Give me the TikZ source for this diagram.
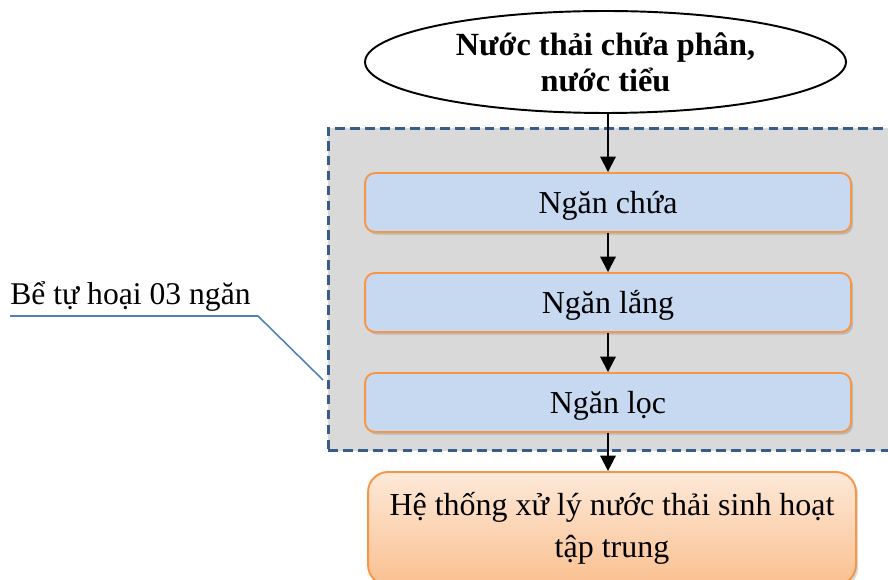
\documentclass[tikz,border=0pt]{standalone}
\usepackage{fontspec}
\setmainfont{Liberation Serif}
\usepackage{tikz}
\usetikzlibrary{arrows.meta, shapes.geometric, shadows}
\usepackage{xcolor}
\definecolor{tankgray}{HTML}{D9D9D9}
\definecolor{tankblue}{HTML}{395D8A}
\definecolor{boxblue}{HTML}{C6D9F1}
\definecolor{boxorange}{HTML}{F79646}
\definecolor{peachtop}{HTML}{FDE9D9}
\definecolor{peachbot}{HTML}{FAC090}
\definecolor{calloutblue}{HTML}{4F81BD}

\begin{document}
\begin{tikzpicture}[
  x=0.02cm, y=-0.02cm,
  >={Triangle[width=0.31cm, length=0.31cm]},
  txt/.style={font=\fontsize{18.2}{21}\selectfont},
  chamber/.style={txt, draw=boxorange, line width=1.1pt, fill=boxblue, rounded corners=0.2cm,
    minimum width=9.72cm, minimum height=1.18cm, inner sep=0pt, text height=0.43cm, text depth=0pt,
    drop shadow={opacity=0.35, shadow xshift=1.2pt, shadow yshift=-1.5pt}},
  flow/.style={->, line width=1.1pt, black},
  callout/.style={line width=0.9pt, calloutblue}
]
\clip (0,0) rectangle (888,580);

% --- Bể tự hoại (khung nét đứt) ---
\node[draw=tankblue, fill=tankgray, line width=1.7pt, dash pattern=on 5.5pt off 3pt,
  minimum width=11.28cm, minimum height=6.46cm, inner sep=0pt] (tank) at (610,289.5) {};

% --- Đầu vào ---
\node[ellipse, draw, line width=1.1pt, fill=white, minimum width=9.62cm, minimum height=2.04cm,
  inner sep=0pt, align=center, font=\fontsize{18.4}{20.5}\selectfont\bfseries] (src) at (605.5,62)
  {Nước thải chứa phân,\\nước tiểu};

% --- Các ngăn ---
\node[chamber] (chua) at (608,202.5) {Ngăn chứa};
\node[chamber] (lang) at (608,302.5) {Ngăn lắng};
\node[chamber] (loc)  at (608,402.5) {Ngăn lọc};

% --- Đầu ra ---
\node[txt, draw=boxorange, line width=1.1pt, top color=peachtop, bottom color=peachbot,
  rounded corners=0.4cm, minimum width=9.76cm, minimum height=2.26cm, inner sep=0pt,
  align=center, font=\fontsize{18.2}{24}\selectfont,
  drop shadow={opacity=0.3, shadow xshift=1.2pt, shadow yshift=-1.5pt}] (htxl) at (612,528.5)
  {Hệ thống xử lý nước thải sinh hoạt\\tập trung};

% --- Mũi tên ---
\draw[flow] (src.south -| chua.north) -- (chua.north);
\draw[flow] (chua.south) -- (lang.north);
\draw[flow] (lang.south) -- (loc.north);
\draw[flow] (loc.south) -- (loc.south |- htxl.north);

% --- Chú thích ---
\node[anchor=south west, inner xsep=0pt, inner ysep=0.08cm, font=\fontsize{18}{22}\selectfont] (lbl) at (10,316) {Bể tự hoại 03 ngăn};
\coordinate (knee) at (258,316);
\coordinate (tip) at (323,380);
\draw[callout] (lbl.south west) -- (knee) -- (tip);

\end{tikzpicture}
\end{document}
